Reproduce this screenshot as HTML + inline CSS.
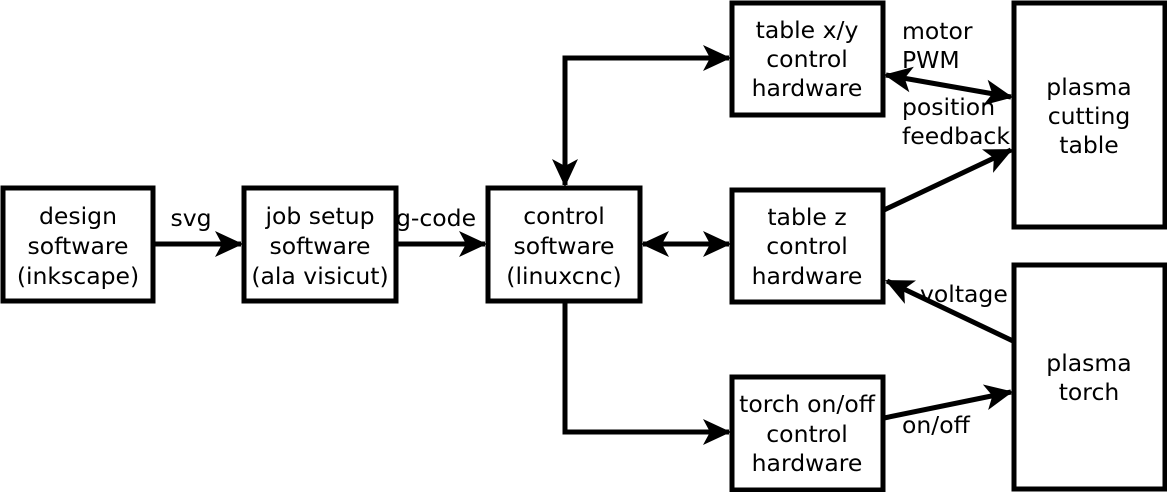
<!DOCTYPE html>
<html><head><style>body{margin:0;background:#fff}</style></head><body>
<svg width="1167" height="492" viewBox="0 0 1167 492" xmlns="http://www.w3.org/2000/svg" font-family="DejaVu Sans, Liberation Sans, sans-serif" font-size="23.5" text-anchor="middle">
<defs>
<marker id="h" viewBox="0 0 28 26" refX="26" refY="13" markerWidth="28" markerHeight="26" orient="auto-start-reverse" markerUnits="userSpaceOnUse">
<path d="M0,0 L28,13 L0,26 L7,13 Z" fill="#000"/>
</marker>
</defs>
<g fill="#fff" stroke="#000" stroke-width="5">
<rect x="3" y="188" width="150" height="113"/>
<rect x="244" y="188" width="152" height="113"/>
<rect x="488" y="188" width="152" height="113"/>
<rect x="732" y="3" width="151" height="112"/>
<rect x="732" y="190" width="151" height="112"/>
<rect x="732" y="377" width="151" height="113"/>
<rect x="1014" y="3" width="151" height="224"/>
<rect x="1014" y="265" width="151" height="224"/>
</g>
<g stroke="#000" stroke-width="5" fill="none">
<line x1="153" y1="244" x2="241" y2="244" marker-end="url(#h)"/>
<line x1="396" y1="244" x2="485" y2="244" marker-end="url(#h)"/>
<line x1="643" y1="244" x2="729" y2="244" marker-start="url(#h)" marker-end="url(#h)"/>
<polyline points="565,185 565,58 729,58" marker-start="url(#h)" marker-end="url(#h)"/>
<polyline points="565,302 565,432 729,432" marker-end="url(#h)"/>
<line x1="886" y1="75" x2="1011" y2="97" marker-start="url(#h)" marker-end="url(#h)"/>
<line x1="884" y1="210" x2="1011" y2="150" marker-end="url(#h)"/>
<line x1="1013" y1="341" x2="887" y2="281" marker-end="url(#h)"/>
<line x1="884" y1="418" x2="1011" y2="392" marker-end="url(#h)"/>
</g>
<g fill="#000">
<text x="78" y="224">design</text><text x="78" y="254">software</text><text x="78" y="284">(inkscape)</text>
<text x="320" y="224">job setup</text><text x="320" y="254">software</text><text x="320" y="284">(ala visicut)</text>
<text x="564" y="224">control</text><text x="564" y="254">software</text><text x="564" y="284">(linuxcnc)</text>
<text x="807" y="38">table x/y</text><text x="807" y="67">control</text><text x="807" y="96">hardware</text>
<text x="807" y="225">table z</text><text x="807" y="254">control</text><text x="807" y="284">hardware</text>
<text x="807" y="412">torch on/off</text><text x="807" y="442">control</text><text x="807" y="471">hardware</text>
<text x="1089" y="95">plasma</text><text x="1089" y="124">cutting</text><text x="1089" y="153">table</text>
<text x="1089" y="371">plasma</text><text x="1089" y="400">torch</text>
<text x="191" y="226">svg</text>
<text x="436" y="226">g-code</text>
<g text-anchor="start">
<text x="902" y="39">motor</text><text x="902" y="68">PWM</text>
<text x="902" y="115">position</text><text x="902" y="144">feedback</text>
<text x="920" y="302">voltage</text>
<text x="902" y="433">on/off</text>
</g>
</g>
</svg>
</body></html>
